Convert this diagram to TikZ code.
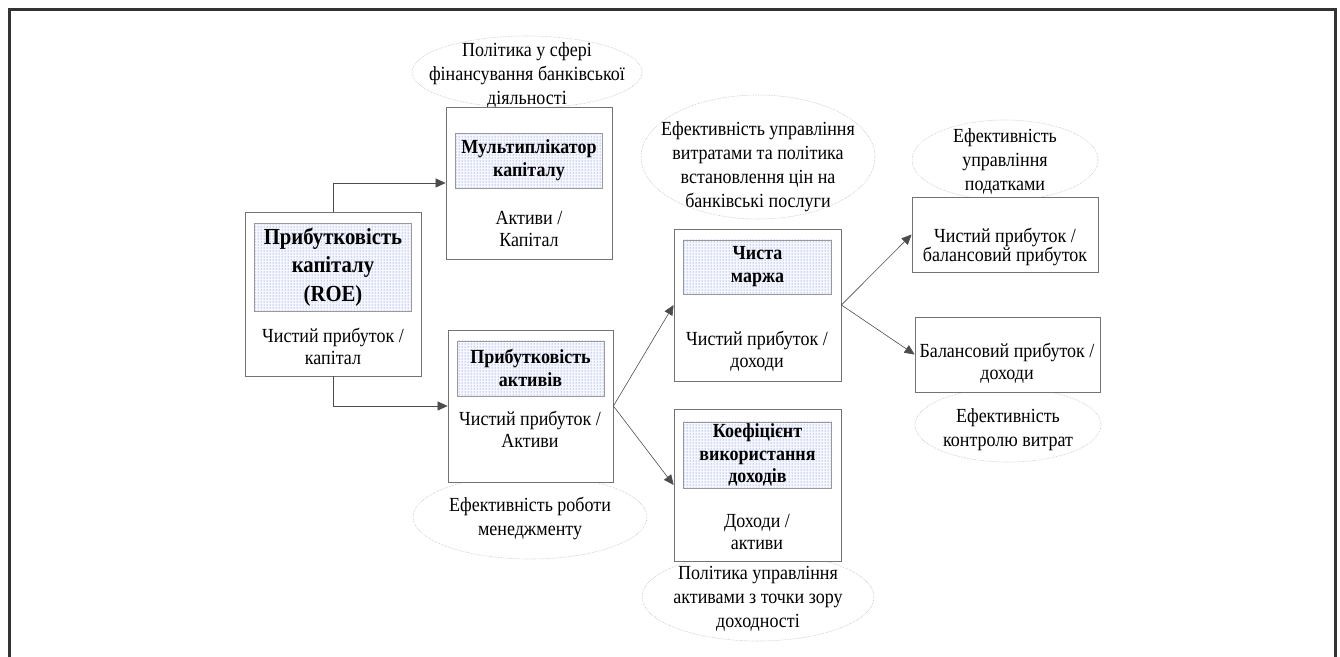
\documentclass[tikz,border=0pt]{standalone}
\usepackage{fontspec}
\setmainfont[FakeStretch=0.9]{Liberation Serif}
\usetikzlibrary{positioning, arrows.meta, patterns}
\definecolor{dotblue}{RGB}{75,110,200}

\begin{document}
\begin{tikzpicture}[x=1pt, y=-1pt, >={Triangle[length=10pt, width=9pt]},
    block/.style={draw=black!55, line width=0.8pt, fill=white, inner sep=0pt},
    title/.style={draw=black!40, line width=0.6pt, preaction={fill=blue!3}, pattern=dots, pattern color=dotblue, align=center, inner sep=0pt, font=\fontsize{20}{23}\selectfont\bfseries},
    ratio/.style={align=center, inner sep=0pt, font=\fontsize{20}{22}\selectfont},
    goal/.style={align=center, inner sep=0pt, font=\fontsize{20}{24}\selectfont},
    rim/.style={draw=black!25, line width=0.6pt, densely dotted},
    link/.style={->, draw=black!70, line width=0.6pt}]
      \useasboundingbox (0,0) rectangle (1340,656);
      \draw[line width=3pt, black!80] (9,662) -- (9,9) -- (1335,9) -- (1335,662);

      \node[goal] (g1) at (527,75) {Політика у сфері\\фінансування банківської\\діяльності};
      \draw[rim] (527,72) ellipse [x radius=115, y radius=36];
      \node[goal] (g2) at (530,518) {Ефективність роботи\\менеджменту};
      \draw[rim] (530,517) ellipse [x radius=117, y radius=42];
      \node[goal] (g3) at (758,167) {Ефективність управління\\витратами та політика\\встановлення цін на\\банківські послуги};
      \draw[rim] (758,157) ellipse [x radius=117, y radius=62];
      \node[goal] (g4) at (1005,161) {Ефективність\\управління\\податками};
      \draw[rim] (1005,160) ellipse [x radius=93, y radius=40];
      \node[goal] (g5) at (1008,430) {Ефективність\\контролю витрат};
      \draw[rim] (1008,425) ellipse [x radius=93, y radius=37];
      \node[goal] (g6) at (758,599) {Політика управління\\активами з точки зору\\доходності};
      \draw[rim] (758,597) ellipse [x radius=116, y radius=44];

      \node[block, minimum width=176, minimum height=164] (roe) at (333,294) {};
      \node[title, minimum width=157, minimum height=88, below=11pt of roe.north, font=\fontsize{23}{28.5}\selectfont\bfseries] (roe-t) {Прибутковість\\капіталу\\(ROE)};
      \node[ratio] (roe-r) at (333,346) {Чистий прибуток /\\капітал};

      \node[block, minimum width=166, minimum height=152] (mult) at (529,183) {};
      \node[title, minimum width=147, minimum height=55, below=26pt of mult.north] (mult-t) {Мультиплікатор\\капіталу};
      \node[ratio] (mult-r) at (529,229) {Активи /\\Капітал};

      \node[block, minimum width=165, minimum height=152] (roa) at (530.5,406) {};
      \node[title, minimum width=147, minimum height=55, below=11pt of roa.north] (roa-t) {Прибутковість\\активів};
      \node[ratio] (roa-r) at (530,429) {Чистий прибуток /\\Активи};

      \node[block, minimum width=167, minimum height=152] (nm) at (757.5,305) {};
      \node[title, minimum width=148, minimum height=54, below=11pt of nm.north] (nm-t) {Чиста\\маржа};
      \node[ratio] (nm-r) at (757,351) {Чистий прибуток /\\доходи};

      \node[block, minimum width=167, minimum height=152] (coef) at (757.5,485) {};
      \node[title, minimum width=148, minimum height=66, below=13pt of coef.north, font=\fontsize{20}{22.5}\selectfont\bfseries] (coef-t) {Коефіцієнт\\використання\\доходів};
      \node[ratio] (coef-r) at (757,532) {Доходи /\\активи};

      \node[block, minimum width=186, minimum height=75] (tax) at (1005,234.5) {};
      \node[ratio, font=\fontsize{20}{19}\selectfont] (tax-r) at (1005,247) {Чистий прибуток /\\балансовий прибуток};

      \node[block, minimum width=185, minimum height=75] (cost) at (1007.5,354.5) {};
      \node[ratio] (cost-r) at (1007,363) {Балансовий прибуток /\\доходи};

      \draw[link] (roe.north) |- (mult.west);
      \draw[link] (roe.south) |- (roa.west);
      \draw[link] (roa.east) -- (nm.west);
      \draw[link] (roa.east) -- (coef.west);
      \draw[link] (nm.east) -- (tax.west);
      \draw[link] (nm.east) -- (cost.west);
    \end{tikzpicture}
\end{document}
